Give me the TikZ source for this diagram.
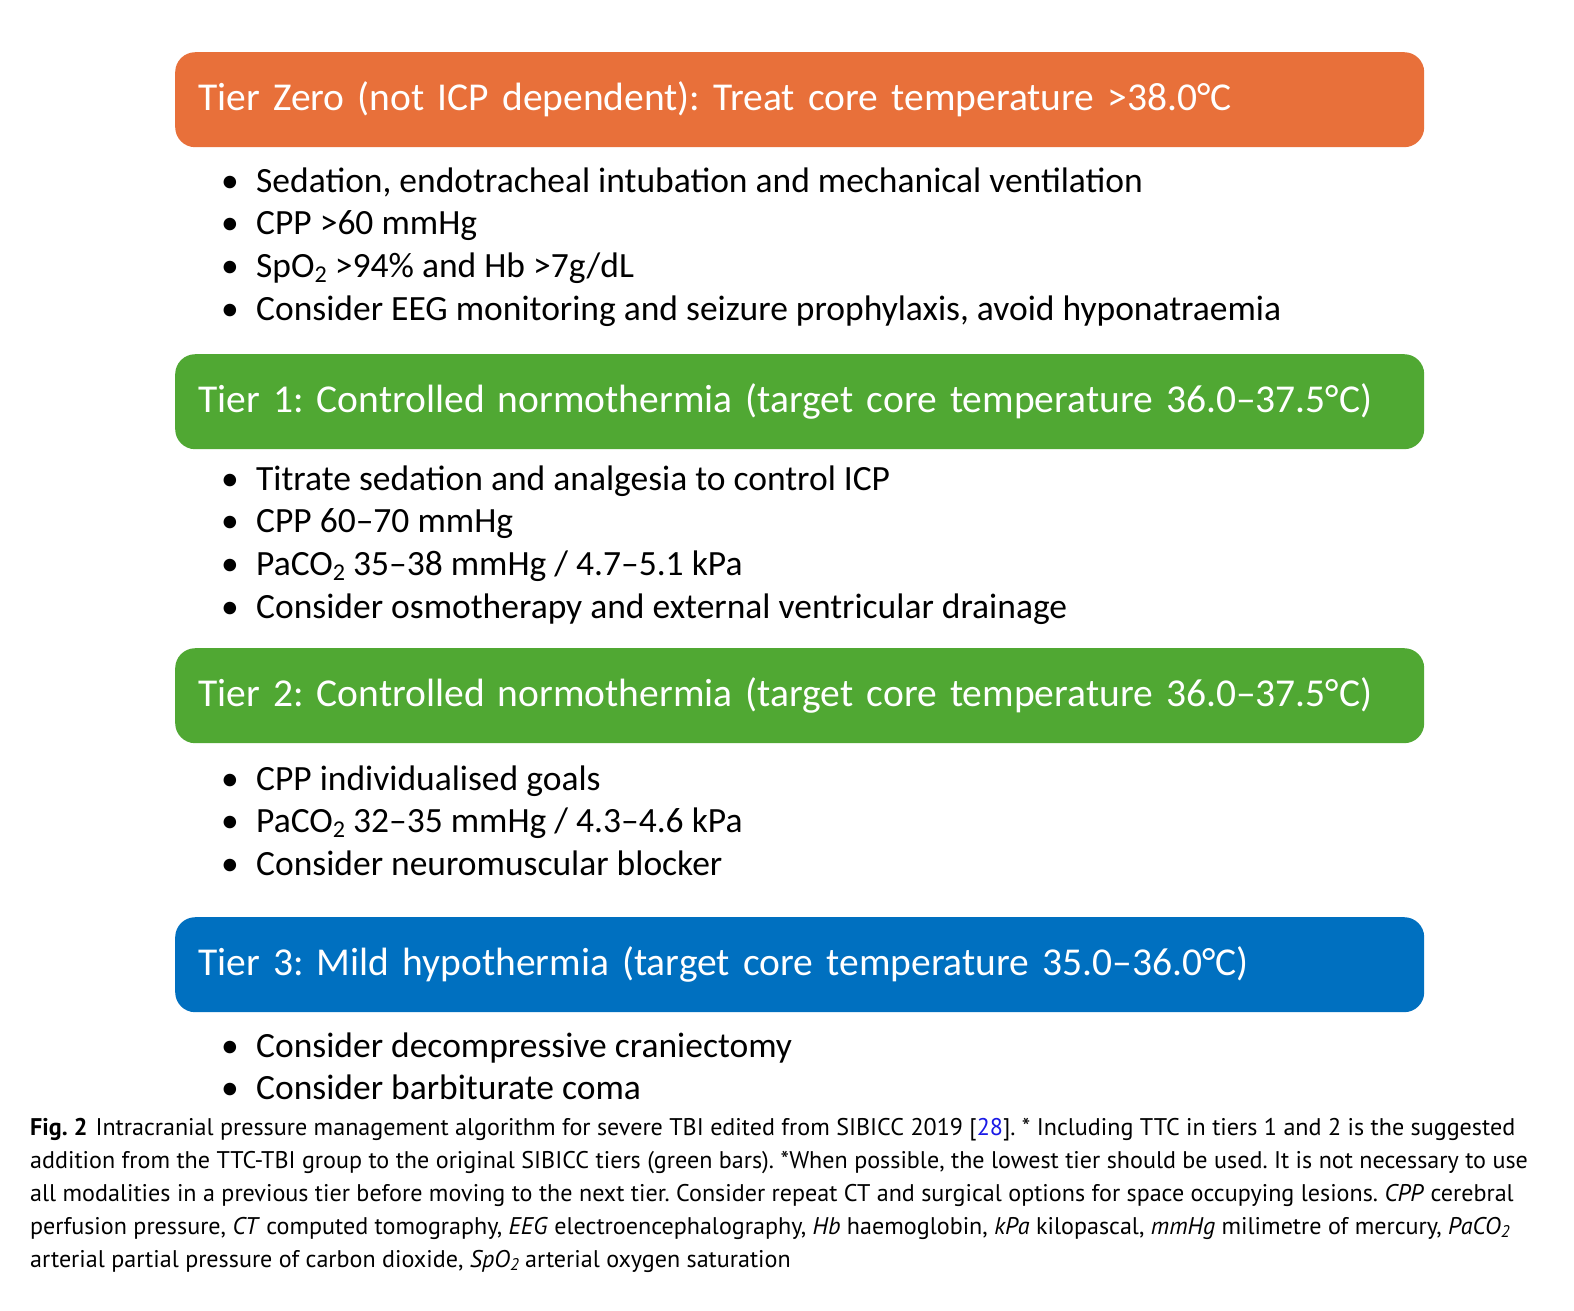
\documentclass[tikz,border=0pt]{standalone}
\usepackage{fontspec}
\setmainfont{Carlito}
\newfontfamily\capfont{PT Sans}
\definecolor{tzero}{HTML}{E8703A}
\definecolor{tgreen}{HTML}{50A833}
\definecolor{tblue}{HTML}{0070C0}
\definecolor{linkblue}{HTML}{1A1AE6}
\newcommand{\lowtwo}{\raisebox{-0.35ex}{\scalebox{0.68}{2}}}
\newcommand{\capsub}{\raisebox{-0.3ex}{\scalebox{0.7}{2}}}
\frenchspacing
\tikzset{
  tierbar/.style={rounded corners=20pt, anchor=north west, minimum width=1249pt, minimum height=95pt,
    text width=1203pt, align=left, inner xsep=23pt, text=white,
    font=\fontsize{39.5}{46}\selectfont},
  item/.style={anchor=base west, inner sep=0pt, font=\fontsize{35.5}{40}\selectfont},
  capline/.style={anchor=base west, inner sep=0pt, font=\capfont\fontsize{24.1}{29}\selectfont}
}
\newcommand{\bul}{\makebox[35pt][l]{•}}
\begin{document}
\begin{tikzpicture}[x=1pt,y=-1pt]
\useasboundingbox[fill=white] (0,0) rectangle (1574,1310);
\node[tierbar, fill=tzero] (t0) at (175,52) {\raisebox{-2pt}{Tier Zero (not ICP dependent): Treat core temperature >38.0°C}};
\node[item] (a1) at (221,192) {\bul Sedation, endotracheal intubation and mechanical ventilation};
\node[item] (a2) at (221,234) {\bul CPP >60 mmHg};
\node[item] (a3) at (221,277) {\bul SpO\lowtwo{} >94\% and Hb >7g/dL};
\node[item] (a4) at (221,320) {\bul Consider EEG monitoring and seizure prophylaxis, avoid hyponatraemia};

\node[tierbar, fill=tgreen] (t1) at (175,354) {\raisebox{-2pt}{Tier 1: Controlled normothermia (target core temperature 36.0–37.5°C)}};
\node[item] (b1) at (221,490) {\bul Titrate sedation and analgesia to control ICP};
\node[item] (b2) at (221,532) {\bul CPP 60–70 mmHg};
\node[item] (b3) at (221,575) {\bul PaCO\lowtwo{} 35–38 mmHg / 4.7–5.1 kPa};
\node[item] (b4) at (221,618) {\bul Consider osmotherapy and external ventricular drainage};

\node[tierbar, fill=tgreen] (t2) at (175,648) {\raisebox{-2pt}{Tier 2: Controlled normothermia (target core temperature 36.0–37.5°C)}};
\node[item] (c1) at (221,790) {\bul CPP individualised goals};
\node[item] (c2) at (221,832) {\bul PaCO\lowtwo{} 32–35 mmHg / 4.3–4.6 kPa};
\node[item] (c3) at (221,875) {\bul Consider neuromuscular blocker};

\node[tierbar, fill=tblue] (t3) at (175,917) {\raisebox{-2pt}{Tier 3: Mild hypothermia (target core temperature 35.0–36.0°C)}};
\node[item] (d1) at (221,1057) {\bul Consider decompressive craniectomy};
\node[item] (d2) at (221,1099) {\bul Consider barbiturate coma};

\node[capline] (l1) at (30,1135) {\textbf{Fig. 2}\hspace{8pt}Intracranial pressure management algorithm for severe TBI edited from SIBICC 2019 [\textcolor{linkblue}{28}]. * Including TTC in tiers 1 and 2 is the suggested};
\node[capline] (l2) at (30,1168) {addition from the TTC-TBI group to the original SIBICC tiers (green bars). *When possible, the lowest tier should be used. It is not necessary to use};
\node[capline] (l3) at (30,1201) {all modalities in a previous tier before moving to the next tier. Consider repeat CT and surgical options for space occupying lesions. \textit{CPP} cerebral};
\node[capline] (l4) at (30,1234) {perfusion pressure, \textit{CT} computed tomography, \textit{EEG} electroencephalography, \textit{Hb} haemoglobin, \textit{kPa} kilopascal, \textit{mmHg} milimetre of mercury, \textit{PaCO\capsub}};
\node[capline] (l5) at (30,1267) {arterial partial pressure of carbon dioxide, \textit{SpO\capsub} arterial oxygen saturation};
\end{tikzpicture}
\end{document}
